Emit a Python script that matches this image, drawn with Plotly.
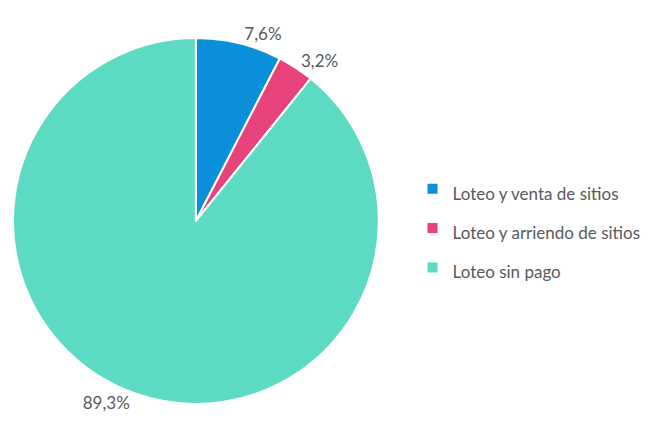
import plotly.graph_objects as go

categories = ["Loteo y venta de sitios", "Loteo y arriendo de sitios", "Loteo sin pago"]
values = [7.6, 3.2, 89.3]
colors = ["#0A90DB", "#E8427C", "#5CDBC2"]
text_labels = [f"{v:.1f}%".replace(".", ",") for v in values]

fig = go.Figure(go.Pie(
    labels=[f"<span style='font-size:17px'>{c}</span>" for c in categories],
    values=values,
    text=text_labels,
    textinfo="text",
    textposition="outside",
    sort=False,
    direction="clockwise",
    rotation=0,
    marker=dict(colors=colors, line=dict(color="white", width=2)),
    textfont=dict(family="Lato, Open Sans, sans-serif", size=17, color="#595959"),
    domain=dict(x=[1/657, 369/657], y=[32/429, 400/429]),
    showlegend=True,
    hoverinfo="label+percent",
))

fig.update_layout(
    width=657, height=429,
    margin=dict(l=0, r=0, t=0, b=0),
    paper_bgcolor="white",
    plot_bgcolor="white",
    font=dict(family="Lato, Open Sans, sans-serif", color="#595959"),
    legend=dict(
        x=403/657, y=0.486, xanchor="left", yanchor="middle",
        itemwidth=30,
        font=dict(size=28, color="#595959", family="Lato, Open Sans, sans-serif"),
        bgcolor="rgba(0,0,0,0)",
    ),
)

fig.write_html("out.html")
